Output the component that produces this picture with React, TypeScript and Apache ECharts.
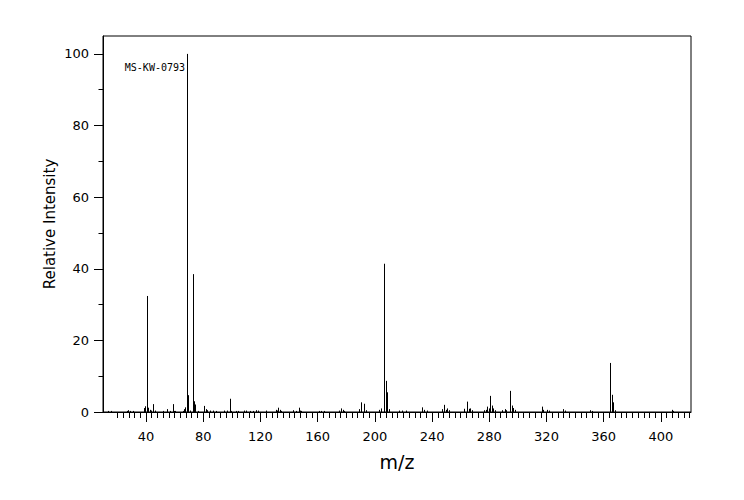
import React, { useEffect, useRef } from "react";
import * as echarts from "echarts";

const mzValues = [
  14, 16, 27, 28, 29, 31, 39, 40, 41, 42, 43, 44, 45, 47, 52, 55, 57, 59, 60, 61,
  66, 67, 68, 69, 70, 71, 73, 74, 75, 77, 81, 82, 83, 85, 87, 89, 95, 97, 99, 100,
  103, 105, 109, 110, 113, 115, 117, 119, 124, 131, 132, 133, 134, 135, 143, 145, 147, 148, 149, 161,
  163, 165, 175, 177, 178, 179, 189, 191, 193, 194, 203, 205, 207, 208, 209, 210, 217, 219, 222, 233,
  235, 237, 247, 249, 250, 251, 252, 263, 265, 266, 267, 268, 277, 278, 279, 280, 281, 282, 283, 284,
  289, 291, 292, 295, 296, 297, 298, 317, 318, 321, 322, 332, 333, 351, 352, 365, 366, 367, 368, 408,
  409,
];
const intensityValues = [
  0.3, 0.3, 0.3, 0.5, 0.3, 0.3, 1.1, 1.6, 32.4, 1.2, 0.6, 0.4, 2.2, 0.4, 0.3, 0.8, 0.3, 2.2, 0.3, 0.3,
  0.3, 0.8, 1.3, 100, 4.7, 0.4, 38.5, 3.0, 2.1, 0.3, 1.7, 0.8, 0.5, 0.4, 0.4, 0.3, 0.4, 0.4, 3.7, 0.3,
  0.3, 0.3, 0.4, 0.4, 0.3, 0.3, 0.5, 0.4, 0.4, 0.6, 0.4, 1.2, 0.6, 0.3, 0.5, 0.3, 1.2, 0.4, 0.3, 0.3,
  0.3, 0.3, 0.4, 1.0, 0.6, 0.3, 0.8, 2.7, 2.3, 0.5, 0.6, 1.0, 41.4, 8.7, 5.5, 0.8, 0.4, 0.4, 0.4, 1.3,
  0.6, 0.4, 0.8, 2.0, 0.6, 1.0, 0.5, 0.9, 2.9, 0.9, 1.0, 0.5, 0.5, 0.6, 1.5, 1.0, 4.5, 1.8, 1.0, 0.5,
  0.5, 0.8, 0.5, 5.9, 1.8, 1.1, 0.6, 1.5, 0.6, 0.6, 0.4, 0.8, 0.4, 0.5, 0.3, 13.7, 4.8, 2.7, 0.5, 0.6,
  0.3,
];

const xMajorTicks = [40, 80, 120, 160, 200, 240, 280, 320, 360, 400];
const xMinorTicks: number[] = [];
for (let v = 20; v <= 420; v += 4) if (v % 40 !== 0) xMinorTicks.push(v);
const yMajorTicks = [0, 20, 40, 60, 80, 100];
const yMinorTicks = [10, 30, 50, 70, 90];

const X_MIN = 10;
const X_MAX = 421;
const Y_MAX = 105;
const annotation = "MS-KW-0793";

const FONT = "DejaVu Sans";

export default function App() {
  const ref = useRef<HTMLDivElement>(null);
  useEffect(() => {
    if (!ref.current) return;
    const chart = echarts.init(ref.current, undefined, { renderer: "svg" });
    const data = mzValues.map((m, i) => [m, intensityValues[i]]);
    const axisBase = {
      type: "value" as const,
      min: X_MIN,
      max: X_MAX,
      splitLine: { show: false },
    };
    chart.setOption({
      animation: false,
      backgroundColor: "#fff",
      grid: {
        left: 103,
        top: 36,
        right: 53,
        bottom: 88,
        show: true,
        borderColor: "#000",
        borderWidth: 1,
        outerBoundsMode: "none",
      },
      xAxis: [
        {
          ...axisBase,
          position: "bottom",
          axisLine: { show: true, lineStyle: { color: "#000", width: 1 } },
          axisTick: { show: true, length: 10, customValues: xMajorTicks, lineStyle: { color: "#000" } },
          axisLabel: {
            customValues: xMajorTicks,
            margin: 18,
            color: "#000",
            fontFamily: FONT,
            fontSize: 13,
          },
          name: "m/z",
          nameLocation: "middle",
          nameGap: 40,
          nameMoveOverlap: false,
          nameTextStyle: { color: "#000", fontFamily: FONT, fontSize: 19 },
        },
        {
          ...axisBase,
          position: "bottom",
          axisLine: { show: false },
          axisTick: { show: true, length: 6, customValues: xMinorTicks, lineStyle: { color: "#000" } },
          axisLabel: { show: false },
        },
      ],
      yAxis: [
        {
          type: "value",
          min: 0,
          max: Y_MAX,
          position: "left",
          splitLine: { show: false },
          axisLine: { show: true, lineStyle: { color: "#000", width: 1 } },
          axisTick: { show: true, length: 9, customValues: yMajorTicks, lineStyle: { color: "#000" } },
          axisLabel: {
            customValues: yMajorTicks,
            margin: 14,
            color: "#000",
            fontFamily: FONT,
            fontSize: 13,
          },
          name: "Relative Intensity",
          nameLocation: "middle",
          nameRotate: 90,
          nameGap: 46,
          nameMoveOverlap: false,
          nameTextStyle: { color: "#000", fontFamily: FONT, fontSize: 15 },
        },
        {
          type: "value",
          min: 0,
          max: Y_MAX,
          position: "left",
          splitLine: { show: false },
          axisLine: { show: false },
          axisTick: { show: true, length: 4.5, customValues: yMinorTicks, lineStyle: { color: "#000" } },
          axisLabel: { show: false },
        },
      ],
      graphic: [
        {
          type: "text",
          right: 744 - 185,
          top: 62,
          style: {
            text: annotation,
            fill: "#000",
            font: "10px 'DejaVu Sans Mono'",
          },
        },
      ],
      series: [
        {
          type: "custom",
          xAxisIndex: 0,
          yAxisIndex: 0,
          data,
          renderItem: (params: any, api: any) => {
            const base = api.coord([api.value(0), 0]);
            const top = api.coord([api.value(0), api.value(1)]);
            const x = Math.floor(base[0]) + 0.5;
            return {
              type: "line",
              shape: { x1: x, y1: base[1], x2: x, y2: top[1] },
              style: { stroke: "#000", lineWidth: 1 },
            };
          },
        },
      ],
    });
    return () => chart.dispose();
  }, []);
  return (
    <div
      ref={ref}
      style={{ position: "fixed", left: 0, top: 0, width: 744, height: 500, background: "#fff" }}
    />
  );
}
